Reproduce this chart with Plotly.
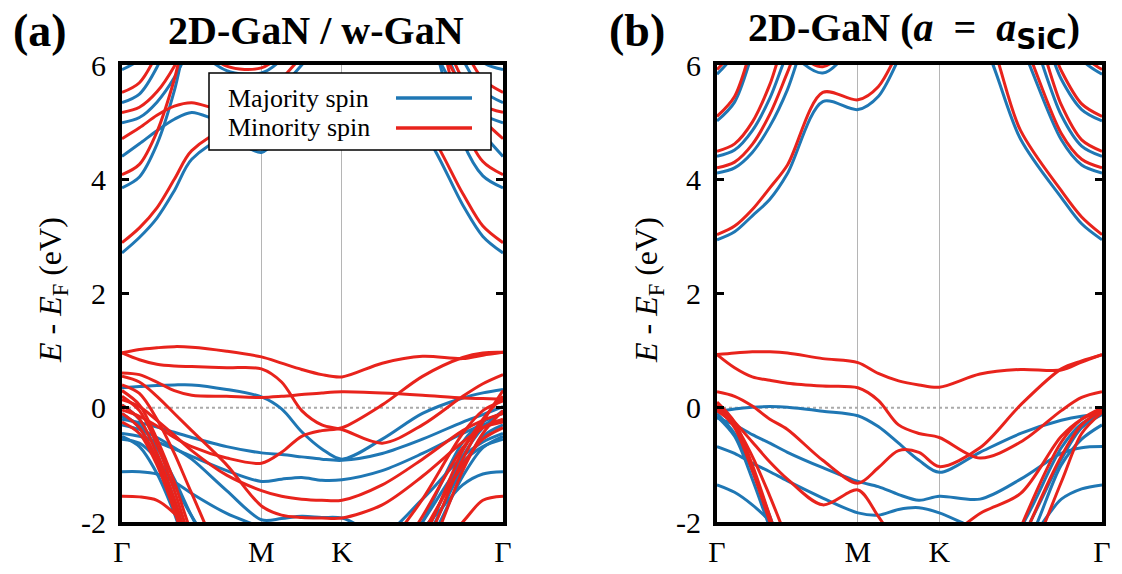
import plotly.graph_objects as go

# k-path sample positions (Gamma-M-K-Gamma, hexagonal BZ lengths)
K_PATH = [0.0, 0.108, 0.217, 0.325, 0.433, 0.650, 0.866, 0.991, 1.116, 1.241,
          1.366, 1.616, 1.866, 2.116, 2.241, 2.366]
K_TICKS = [0.0, 0.866, 1.366, 2.366]
K_LABELS = ["Γ", "M", "K", "Γ"]
E_TICKS = [-2, 0, 2, 4, 6]

# ---------------- panel (a): 2D-GaN / w-GaN ----------------
A_MAJ = [  # majority spin (blue)
    [2.71, 2.98, 3.32, 3.80, 4.35, 4.72, 4.47, 4.80, 5.20, 5.50, 5.60, 5.40, 4.85, 3.55, 3.00, 2.71],
    [3.85, 4.04, 4.61, 5.55, 6.86, 8.5, 9, 9, 9, 9, 9, 9, 7.10, 4.66, 4.06, 3.85],
    [4.40, 4.62, 4.85, 5.05, 5.17, 5.00, 5.20, 5.60, 6.00, 6.40, 6.60, 6.80, 6.50, 5.30, 4.80, 4.40],
    [4.99, 5.08, 5.35, 5.78, 6.40, 8.0, 9, 9, 9, 9, 9, 9, 7.30, 5.57, 5.14, 4.99],
    [5.34, 5.49, 5.96, 6.70, 7.60, 9, 9, 9, 9, 9, 9, 9, 7.80, 6.10, 5.55, 5.34],
    [5.92, 6.10, 6.60, 7.30, 8.0, 9, 9, 9, 9, 9, 9, 9, 8.0, 6.60, 6.05, 5.92],
    [9, 9, 8.0, 7.0, 6.40, 5.90, 5.86, 6.10, 6.60, 7.20, 8.0, 9, 9, 9, 9, 9],
    [0.35, 0.37, 0.39, 0.40, 0.40, 0.32, 0.19, -0.02, -0.42, -0.72, -0.90, -0.55, -0.10, 0.17, 0.26, 0.32],
    [-0.20, -0.26, -0.34, -0.43, -0.52, -0.68, -0.79, -0.82, -0.86, -0.90, -0.92, -0.80, -0.55, -0.25, -0.12, 0.02],
    [-0.45, -0.50, -0.60, -0.72, -0.85, -1.10, -1.29, -1.25, -1.22, -1.27, -1.26, -1.10, -0.80, -0.45, -0.30, -0.22],
    [-1.12, -1.12, -1.16, -1.30, -1.50, -1.85, -2.10, -2.30, -2.40, -2.40, -2.40, -2.40, -2.10, -1.35, -1.16, -1.12],
    [-0.30, -0.38, -0.52, -0.70, -0.90, -1.45, -1.96, -1.94, -1.90, -1.92, -1.93, -2.20, -1.60, -0.85, -0.60, -0.45],
    [0.05, -0.20, -0.80, -1.60, -2.50, -3.5, -4, -4, -4, -4, -4, -3.4, -2.30, -0.85, -0.35, -0.05],
    [-0.10, -0.35, -0.95, -1.80, -2.70, -3.6, -4, -4, -4, -4, -4, -3.2, -2.00, -0.60, -0.25, -0.10],
    [-0.50, -0.68, -1.15, -1.85, -2.70, -3.6, -4, -4, -4, -4, -4, -3.6, -2.60, -1.20, -0.70, -0.50],
    [-0.55, -0.62, -0.90, -1.35, -1.90, -2.8, -3.4, -3.4, -3.4, -3.4, -3.4, -3.0, -2.00, -0.95, -0.68, -0.55],
    [-0.15, -0.30, -0.70, -1.25, -1.90, -3.0, -3.6, -3.6, -3.6, -3.6, -3.6, -3.3, -2.40, -1.05, -0.50, -0.30],
]
A_MIN = [  # minority spin (red)
    [2.89, 3.15, 3.50, 4.00, 4.50, 4.85, 4.58, 4.95, 5.35, 5.65, 5.75, 5.55, 5.00, 3.75, 3.18, 2.89],
    [4.08, 4.26, 4.83, 5.75, 7.00, 8.5, 9, 9, 9, 9, 9, 9, 7.70, 4.99, 4.31, 4.08],
    [4.71, 4.90, 5.12, 5.28, 5.34, 5.20, 5.35, 5.75, 6.15, 6.55, 6.75, 6.95, 6.70, 5.60, 5.05, 4.71],
    [5.17, 5.26, 5.53, 5.98, 6.60, 8.0, 9, 9, 9, 9, 9, 9, 7.40, 5.75, 5.30, 5.17],
    [5.52, 5.69, 6.20, 7.00, 8.0, 9, 9, 9, 9, 9, 9, 9, 8.0, 6.35, 5.75, 5.52],
    [9, 9, 8.0, 7.1, 6.50, 5.98, 5.95, 6.20, 6.70, 7.30, 8.0, 9, 9, 9, 9, 9],
    [0.96, 1.02, 1.05, 1.07, 1.06, 0.99, 0.89, 0.78, 0.67, 0.58, 0.54, 0.78, 0.90, 0.86, 0.92, 0.97],
    [0.96, 0.84, 0.76, 0.73, 0.72, 0.70, 0.68, 0.45, -0.05, -0.30, -0.38, -0.62, -0.30, 0.20, 0.42, 0.58],
    [0.61, 0.58, 0.45, 0.30, 0.22, 0.20, 0.18, 0.20, 0.23, 0.26, 0.28, 0.26, 0.22, 0.17, 0.16, 0.15],
    [-0.04, -0.15, -0.32, -0.52, -0.68, -0.88, -0.97, -0.78, -0.50, -0.40, -0.35, 0.05, 0.55, 0.88, 0.96, 0.97],
    [0.14, 0.02, -0.22, -0.48, -0.75, -1.18, -1.45, -1.55, -1.60, -1.62, -1.62, -1.35, -0.90, -0.40, -0.22, -0.10],
    [-1.55, -1.56, -1.62, -1.85, -2.20, -2.7, -3.0, -3.0, -3.0, -3.0, -3.0, -3.0, -2.70, -2.00, -1.62, -1.55],
    [0.55, 0.45, 0.20, -0.10, -0.40, -1.00, -1.72, -1.88, -1.92, -1.93, -1.93, -1.70, -1.20, -0.60, -0.35, -0.25],
    [0.30, 0.05, -0.55, -1.30, -2.20, -3.5, -4, -4, -4, -4, -4, -3.5, -2.50, -0.90, -0.25, 0.30],
    [0.20, -0.05, -0.65, -1.45, -2.35, -3.5, -4, -4, -4, -4, -4, -2.6, -1.60, -0.45, -0.05, 0.12],
    [0.05, -0.20, -0.80, -1.60, -2.50, -3.5, -4, -4, -4, -4, -4, -3.9, -2.80, -1.10, -0.45, -0.05],
    [-0.10, -0.35, -0.90, -1.70, -2.60, -3.5, -4, -4, -4, -4, -4, -3.0, -1.90, -0.70, -0.35, -0.20],
    [-0.25, -0.45, -1.00, -1.80, -2.70, -3.6, -4, -4, -4, -4, -4, -3.4, -2.20, -1.00, -0.55, -0.35],
    [0.40, 0.25, -0.20, -0.80, -1.50, -2.8, -3.5, -3.5, -3.5, -3.5, -3.5, -3.2, -2.30, -0.75, -0.20, 0.20],
]

# ---------------- panel (b): 2D-GaN (a = a_SiC) ----------------
B_MAJ = [
    [2.94, 3.08, 3.36, 3.65, 4.10, 5.36, 5.22, 5.45, 6.10, 6.80, 7.20, 6.50, 4.70, 3.68, 3.22, 2.94],
    [4.11, 4.20, 4.47, 4.93, 5.57, 7.3, 8, 8, 8, 8, 8, 7.8, 6.37, 4.69, 4.25, 4.11],
    [4.40, 4.51, 4.85, 5.42, 6.21, 7.5, 8, 8, 8, 8, 8, 8, 7.00, 5.12, 4.58, 4.40],
    [5.02, 5.35, 6.20, 7.20, 8, 8, 8, 8, 8, 8, 8, 8, 7.50, 5.75, 5.22, 5.02],
    [5.84, 6.20, 7.00, 8, 8, 8, 8, 8, 8, 8, 8, 8, 8, 6.90, 6.10, 5.84],
    [8, 8, 8, 7.0, 6.30, 5.86, 6.50, 7.50, 8, 8, 8, 8, 8, 8, 8, 8],
    [-0.07, -0.02, 0.01, 0.02, 0.01, -0.06, -0.14, -0.33, -0.62, -0.92, -1.13, -0.78, -0.45, -0.22, -0.15, -0.12],
    [-0.18, -0.30, -0.47, -0.62, -0.78, -1.05, -1.29, -1.38, -1.52, -1.62, -1.55, -1.60, -1.25, -0.80, -0.70, -0.68],
    [-0.68, -0.80, -0.97, -1.12, -1.28, -1.58, -1.84, -1.88, -1.78, -1.75, -1.84, -2.15, -2.40, -1.60, -1.42, -1.35],
    [-1.35, -1.48, -1.70, -1.98, -2.30, -3.0, -3.2, -3.2, -3.2, -3.2, -3.2, -3.2, -2.60, -1.00, -0.55, -0.30],
    [-0.10, -0.45, -1.10, -1.90, -2.70, -3.6, -4, -4, -4, -4, -4, -3.2, -2.30, -0.90, -0.35, -0.12],
    [-0.15, -0.50, -1.25, -2.10, -2.90, -3.6, -4, -4, -4, -4, -4, -3.0, -2.10, -0.70, -0.28, -0.10],
]
B_MIN = [
    [3.03, 3.18, 3.47, 3.85, 4.25, 5.52, 5.39, 5.62, 6.25, 6.90, 7.20, 6.80, 4.85, 3.80, 3.34, 3.03],
    [4.20, 4.30, 4.61, 5.14, 5.87, 7.4, 8, 8, 8, 8, 8, 7.9, 6.54, 4.80, 4.35, 4.20],
    [4.49, 4.62, 5.00, 5.66, 6.57, 7.6, 8, 8, 8, 8, 8, 8, 7.30, 5.30, 4.69, 4.49],
    [5.10, 5.45, 6.35, 7.30, 8, 8, 8, 8, 8, 8, 8, 8, 7.60, 5.90, 5.32, 5.10],
    [5.92, 6.30, 7.10, 8, 8, 8, 8, 8, 8, 8, 8, 8, 8, 7.00, 6.20, 5.92],
    [8, 8, 8, 7.1, 6.40, 5.97, 6.60, 7.60, 8, 8, 8, 8, 8, 8, 8, 8],
    [0.93, 0.96, 0.98, 0.98, 0.96, 0.86, 0.79, 0.60, 0.47, 0.40, 0.36, 0.59, 0.67, 0.66, 0.80, 0.93],
    [0.93, 0.70, 0.54, 0.48, 0.43, 0.38, 0.35, 0.13, -0.30, -0.45, -0.52, -0.88, -0.60, -0.05, 0.18, 0.28],
    [0.28, 0.20, 0.03, -0.20, -0.38, -0.92, -1.32, -1.05, -0.75, -0.78, -1.03, -0.70, 0.05, 0.68, 0.82, 0.93],
    [0.05, -0.25, -0.60, -0.95, -1.25, -1.70, -1.44, -1.90, -2.40, -2.60, -2.40, -1.85, -1.50, -0.50, -0.20, -0.04],
    [0.10, -0.25, -1.00, -1.90, -2.80, -4.0, -4.5, -4.5, -4.5, -4.5, -4.5, -4.0, -2.10, -0.60, -0.20, 0.00],
    [0.00, -0.35, -1.10, -2.00, -2.90, -4.0, -4.5, -4.5, -4.5, -4.5, -4.5, -4.2, -2.40, -0.85, -0.30, -0.05],
    [-0.05, -0.30, -0.85, -1.55, -2.30, -3.5, -4.5, -4.5, -4.5, -4.5, -4.5, -4.2, -3.00, -1.30, -0.45, -0.08],
]

BLUE = "#1f77b4"
RED = "#e8231c"
FONT = "Liberation Serif"
W, H = 1122, 574

fig = go.Figure()


def add_bands(bands, color, xa, ya):
    for band in bands:
        fig.add_trace(go.Scatter(
            x=K_PATH, y=band, mode="lines", xaxis=xa, yaxis=ya,
            line=dict(color=color, width=3, shape="spline", smoothing=0.9),
            showlegend=False, hoverinfo="skip"))


for xa, ya, maj, mnr in (("x", "y", A_MAJ, A_MIN), ("x2", "y2", B_MAJ, B_MIN)):
    fig.add_trace(go.Scatter(x=[K_TICKS[0], K_TICKS[-1]], y=[0, 0], mode="lines",
                             xaxis=xa, yaxis=ya, showlegend=False, hoverinfo="skip",
                             line=dict(color="#aaaaaa", width=2, dash="dot")))
    add_bands(maj, BLUE, xa, ya)
    add_bands(mnr, RED, xa, ya)

xcommon = dict(range=[K_TICKS[0], K_TICKS[-1]], tickvals=K_TICKS, ticktext=K_LABELS,
               showgrid=True, gridcolor="#b5b5b5", gridwidth=1, zeroline=False,
               showline=True, linecolor="black", linewidth=4, mirror=True, ticks="",
               automargin=False,
               tickfont=dict(family=FONT, size=30, color="black"))
ycommon = dict(range=[-2, 6], tickvals=E_TICKS, ticktext=[str(v) for v in E_TICKS],
               showgrid=False, zeroline=False, showline=True, linecolor="black",
               linewidth=4, mirror="ticks", ticks="inside", ticklen=7, tickwidth=3,
               tickcolor="black", ticklabelstandoff=6, automargin=False,
               tickfont=dict(family=FONT, size=30, color="black"))

ydom = [1 - 522 / H, 1 - 65 / H]
fig.update_layout(
    width=W, height=H, margin=dict(l=0, r=0, t=0, b=0, autoexpand=False),
    paper_bgcolor="white", plot_bgcolor="white",
    xaxis=dict(domain=[122 / W, 503 / W], anchor="y", **xcommon),
    yaxis=dict(domain=ydom, anchor="x", **ycommon),
    xaxis2=dict(domain=[717 / W, 1102 / W], anchor="y2", **xcommon),
    yaxis2=dict(domain=ydom, anchor="x2", **ycommon),
)

ann = []
def txt(x, y, s, size, xanchor="center", **kw):
    ann.append(dict(x=x / W, y=1 - y / H, xref="paper", yref="paper", text=s,
                    xanchor=xanchor, yanchor="middle", showarrow=False,
                    font=dict(family=FONT, size=size, color="black"), **kw))

txt(40, 30, "<b>(a)</b>", 46)
txt(316, 30, "<b>2D-GaN / w-GaN</b>", 40)
txt(637, 30, "<b>(b)</b>", 46)
txt(914, 30, "<b>2D-GaN (<i>a</i>&nbsp;&nbsp;=&nbsp;&nbsp;<i>a</i><sub>"
             "<span style=\"font-family:'DejaVu Sans'\">SiC</span></sub>)</b>", 40)
txt(52, 290, "<i>E</i> - <i>E</i><sub>F</sub> (eV)", 32, textangle=-90)
txt(648, 290, "<i>E</i> - <i>E</i><sub>F</sub> (eV)", 32, textangle=-90)
txt(226, 98, "Majority spin", 26, xanchor="left")
txt(226, 128, "Minority spin", 26, xanchor="left")

shapes = [
    dict(type="rect", xref="paper", yref="paper", x0=209 / W, x1=491 / W,
         y0=1 - 150 / H, y1=1 - 73 / H, line=dict(color="black", width=1.5),
         fillcolor="white", layer="above"),
    dict(type="line", xref="paper", yref="paper", x0=396 / W, x1=472 / W,
         y0=1 - 98 / H, y1=1 - 98 / H, line=dict(color=BLUE, width=3.5), layer="above"),
    dict(type="line", xref="paper", yref="paper", x0=396 / W, x1=472 / W,
         y0=1 - 128 / H, y1=1 - 128 / H, line=dict(color=RED, width=3.5), layer="above"),
]
fig.update_layout(annotations=ann, shapes=shapes)

fig.write_html("out.html")
